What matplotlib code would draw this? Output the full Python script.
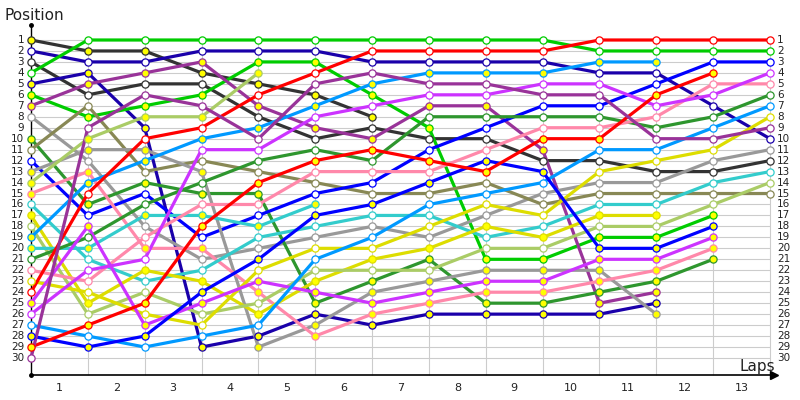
import matplotlib
matplotlib.use("Agg")
import matplotlib.pyplot as plt

# ---------------- data ----------------
laps = list(range(14))                      # lap 0 = grid
lap_labels = [str(i) for i in range(1, 14)]
pos_labels = [str(i) for i in range(1, 31)]

# team colours
c_dkgray = "#333333"
c_navy = "#1a00aa"
c_green = "#00cc00"
c_purple = "#993399"
c_gray = "#999999"
c_dkgreen = "#2e962e"
c_olive = "#888855"
c_blue = "#0000ff"
c_ltgreen = "#aacc66"
c_pink = "#ff88aa"
c_cyan = "#33cccc"
c_yellow = "#dddd00"
c_sky = "#0099ff"
c_red = "#ff0000"
c_violet = "#cc33ff"

# positions per lap (lap 0 .. last lap completed)
dkgray_y = [1, 2, 2, 4, 5, 6, 8]
navy_w = [2, 3, 3, 2, 2, 2, 3, 3, 3, 3, 4, 4, 7, 10]
dkgray_w = [3, 6, 5, 5, 8, 10, 9, 10, 10, 12, 12, 13, 13, 12]
green_w = [4, 1, 1, 1, 1, 1, 1, 1, 1, 1, 2, 2, 2, 2]
navy_y = [5, 4, 9, 29, 28, 26, 27, 26, 26, 26, 26, 25]
green_y = [6, 8, 7, 6, 3, 3, 6, 9, 21, 21, 19, 19, 17]
purple_y = [7, 5, 4, 3, 7, 9, 10, 7, 7, 11, 25, 24]
gray_w = [8, 12, 18, 21, 20, 19, 18, 19, 17, 15, 14, 14, 12, 11]
dkgreen_y = [10, 16, 14, 15, 15, 25, 23, 21, 25, 25, 24, 23, 21]
olive_w = [11, 7, 13, 12, 13, 14, 15, 15, 14, 16, 15, 15, 15, 15]
blue_w = [12, 17, 15, 19, 17, 15, 14, 11, 9, 7, 7, 5, 3, 3]
gray_y = [13, 11, 11, 13, 29, 27, 24, 23, 22, 22, 22, 26]
ltgreen_y = [14, 10, 8, 8, 4]
pink_y = [15, 13, 20, 20, 24, 28, 26, 25, 24, 24, 23, 22, 20]
cyan_w = [16, 21, 23, 22, 19, 18, 17, 17, 19, 18, 16, 16, 14, 13]
yellow_y = [17, 25, 22, 23, 26, 23, 21, 20, 18, 19, 17, 17]
ltgreen_w = [18, 26, 24, 26, 25, 22, 22, 22, 20, 20, 18, 18, 16, 14]
sky_y = [19, 14, 12, 10, 9, 7, 5, 4, 4, 4, 3, 3]
cyan_y = [20, 20, 17, 17, 18, 16]
dkgreen_w = [21, 19, 16, 14, 12, 11, 12, 8, 8, 8, 8, 9, 8, 6]
pink_w = [22, 23, 19, 16, 16, 13, 13, 13, 11, 9, 9, 8, 5, 5]
yellow_w = [23, 24, 26, 27, 22, 20, 20, 18, 16, 17, 13, 12, 11, 8]
red_w = [24, 15, 10, 9, 6, 4, 2, 2, 2, 2, 1, 1, 1, 1]
violet_y = [25, 18, 27, 25, 23, 24, 25, 24, 23, 23, 21, 21, 19]
violet_w = [26, 22, 21, 11, 11, 8, 7, 6, 6, 5, 5, 7, 6, 4]
sky_w = [27, 28, 29, 28, 27, 21, 19, 16, 15, 14, 11, 11, 9, 7]
blue_y = [28, 29, 28, 24, 21, 17, 16, 14, 12, 13, 20, 20, 18]
red_y = [29, 27, 25, 18, 14, 12, 11, 12, 13, 10, 10, 6, 4]
purple_w = [30, 9, 6, 7, 10, 5, 4, 5, 5, 6, 6, 10, 10, 9]

drivers = [
    (dkgray_y, c_dkgray, True), (navy_w, c_navy, False), (dkgray_w, c_dkgray, False),
    (green_w, c_green, False), (navy_y, c_navy, True), (green_y, c_green, True),
    (purple_y, c_purple, True), (gray_w, c_gray, False), (dkgreen_y, c_dkgreen, True),
    (olive_w, c_olive, False), (blue_w, c_blue, False), (gray_y, c_gray, True),
    (ltgreen_y, c_ltgreen, True), (pink_y, c_pink, True), (cyan_w, c_cyan, False),
    (yellow_y, c_yellow, True), (ltgreen_w, c_ltgreen, False), (sky_y, c_sky, True),
    (cyan_y, c_cyan, True), (dkgreen_w, c_dkgreen, False), (pink_w, c_pink, False),
    (yellow_w, c_yellow, False), (red_w, c_red, False), (violet_y, c_violet, True),
    (violet_w, c_violet, False), (sky_w, c_sky, False), (blue_y, c_blue, True),
    (red_y, c_red, True), (purple_w, c_purple, False),
]

# ---------------- figure geometry ----------------
fig = plt.figure(figsize=(8, 4), dpi=100)
ax = fig.add_axes([0, 0, 1, 1])
PX_LAP = (770 - 31) / 13.0
PX_POS = (358 - 40) / 29.0
ax.set_xlim(-31 / PX_LAP, (800 - 31) / PX_LAP)
ax.set_ylim(1 + 360 / PX_POS, 1 - 40 / PX_POS)
ax.axis("off")

def lx(px):
    return (px - 31) / PX_LAP

def py(px):
    return 1 + (px - 40) / PX_POS

axis_y = py(375)
top_y = py(25)

# grid
grid_c = "#cccccc"
ax.hlines(range(1, 31), 0, 13, color=grid_c, lw=0.8, zorder=1)
ax.vlines(laps[1:], 1, axis_y, color=grid_c, lw=0.8, zorder=1)

# axes
ax.plot([0, 0], [top_y, axis_y], color="black", lw=1.0, zorder=2)
ax.plot([0, lx(772)], [axis_y, axis_y], color="black", lw=1.2, zorder=2)
ax.plot([lx(774)], [axis_y], marker=">", color="black", markersize=6, zorder=2)
ax.plot([0, 0], [top_y, axis_y], ls="none", marker="o", color="black", markersize=2.5, zorder=2)

# lines
for ser, col, _ in drivers:
    ax.plot(laps[:len(ser)], ser, color=col, lw=2.3, zorder=3, solid_capstyle="round")

# markers
for ser, col, yel in drivers:
    ax.plot(laps[:len(ser)], ser, ls="none", marker="o", markersize=5.2,
            markerfacecolor="#ffff00" if yel else "white",
            markeredgecolor=col, markeredgewidth=0.9, zorder=4)

# labels
tc = "#222222"
for i, lab in enumerate(pos_labels):
    ax.text(lx(24), i + 1, lab, ha="right", va="center", fontsize=7.5, color=tc)
    ax.text(lx(777), i + 1, lab, ha="left", va="center", fontsize=7.5, color=tc)
for i, lab in enumerate(lap_labels):
    ax.text(i + 0.5, py(388), lab, ha="center", va="center", fontsize=8, color=tc)

ax.text(lx(4), py(15), "Position", ha="left", va="center", fontsize=11, color=tc)
ax.text(lx(775), py(366), "Laps", ha="right", va="center", fontsize=11, color=tc)

fig.savefig("out.png", dpi=100)
